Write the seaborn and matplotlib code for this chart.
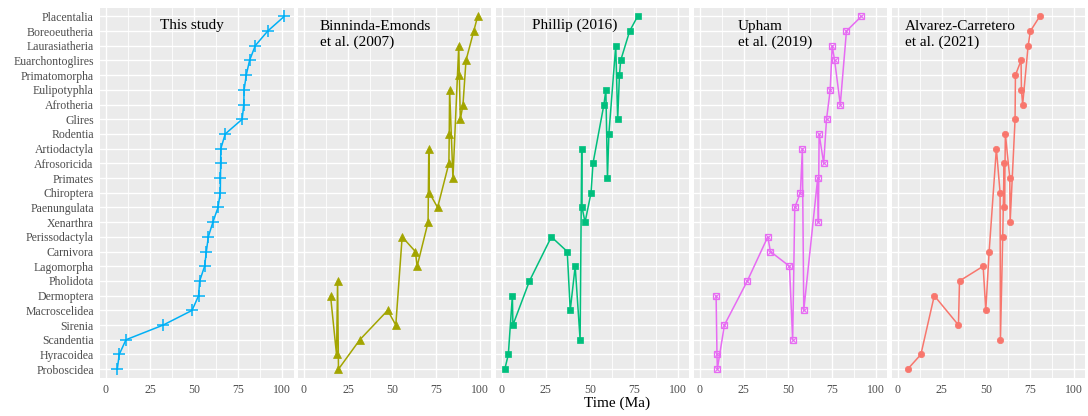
import numpy as np
import pandas as pd
import seaborn as sns
import matplotlib.pyplot as plt

# clades, top to bottom as shown on the y axis
clades = ["Placentalia", "Boreoeutheria", "Laurasiatheria", "Euarchontoglires",
          "Primatomorpha", "Eulipotyphla", "Afrotheria", "Glires", "Rodentia",
          "Artiodactyla", "Afrosoricida", "Primates", "Chiroptera", "Paenungulata",
          "Xenarthra", "Perissodactyla", "Carnivora", "Lagomorpha", "Pholidota",
          "Dermoptera", "Macroscelidea", "Sirenia", "Scandentia", "Hyracoidea",
          "Proboscidea"]

# crown ages (Ma) per study, same order as clades
this_study = [101.1, 91.7, 84.6, 81.4, 79.5, 78.3, 78.1, 77.2, 67.6, 65.1, 65.0, 64.9,
              64.8, 63.5, 60.6, 58.0, 56.9, 55.9, 53.1, 52.5, 48.8, 32.4, 11.3, 7.5, 6.4]
binninda = [98.5, 96.3, 87.8, 91.9, 88.1, 82.6, 90.2, 88.7, 82.4, 70.8, 82.2, 84.5,
            71.1, 75.8, 70.4, 55.7, 63.2, 64.2, 19.1, 15.1, 47.5, 52.1, 31.7, 18.5, 19.6]
phillip = [77.0, 72.5, 64.6, 67.4, 66.7, 59.0, 57.9, 65.7, 60.7, 45.3, 51.7, 59.9,
           50.6, 45.5, 47.2, 28.1, 37.1, 41.6, 15.7, 6.0, 38.8, 6.3, 44.4, 3.7, 1.7]
upham = [91.7, 83.2, 75.1, 76.5, np.nan, 74.0, 79.7, 71.9, 67.7, 58.2, 70.3, 66.9,
         57.1, 53.9, 67.3, 38.6, 40.1, 50.9, 27.0, 9.3, 59.0, 14.0, 52.7, 9.8, 10.0]
alvarez = [80.6, 75.3, 74.0, 70.0, 66.8, 70.2, 70.9, 66.6, 61.1, 56.0, 60.4, 63.6,
           58.1, 60.6, 63.8, 59.6, 51.9, 48.5, 35.1, 20.8, 50.0, 34.5, 58.3, 13.2, 5.7]

studies = ["This study", "Binninda-Emonds\net al. (2007)", "Phillip (2016)",
           "Upham\net al. (2019)", "Alvarez-Carretero\net al. (2021)"]
ages = [this_study, binninda, phillip, upham, alvarez]
colors = ["#00B0F6", "#A3A500", "#00BF7D", "#E76BF3", "#F8766D"]
label_x = [30.5, 9.1, 17.2, 21.8, 4.1]

rows = []
for study, vals in zip(studies, ages):
    for i, (c, v) in enumerate(zip(clades, vals)):
        rows.append({"study": study, "clade": c, "pos": len(clades) - 1 - i, "time": v})
df = pd.DataFrame(rows).dropna()

sns.set_theme(style="darkgrid", rc={"axes.facecolor": "#EBEBEB", "grid.color": "white"})
plt.rcParams["font.family"] = ["Liberation Serif", "DejaVu Serif"]

W, H = 1088, 416
fig = plt.figure(figsize=(W / 100, H / 100), dpi=100)
pw, gap, left0, top, bottom = 193.5, 4.4, 100, 7.5, 378

n = len(clades)
for k, study in enumerate(studies):
    x0 = left0 + k * (pw + gap)
    ax = fig.add_axes([x0 / W, (H - bottom) / H, pw / W, (bottom - top) / H])
    sub = df[df.study == study]
    col = colors[k]
    kw = dict(data=sub, x="time", y="pos", sort=True, estimator=None, ax=ax,
              color=col, linewidth=1.1, markeredgecolor=col)
    if k == 0:
        sns.lineplot(**kw, marker="+", markersize=8, markeredgewidth=1.1)
    elif k == 1:
        sns.lineplot(**kw, marker="^", markersize=5.5, markeredgewidth=0.5)
    elif k == 2:
        sns.lineplot(**kw, marker="s", markersize=4.6, markeredgewidth=0.5)
    elif k == 3:
        sns.lineplot(**kw, marker="s", markersize=5, markerfacecolor="none",
                     markeredgewidth=0.9)
        sns.scatterplot(data=sub, x="time", y="pos", ax=ax, color=col, marker="x",
                        s=10, linewidth=0.8, zorder=5)
    else:
        sns.lineplot(**kw, marker="o", markersize=4.6, markeredgewidth=0.5)

    ax.set_xlim(-3.4, 106.3)
    ax.set_ylim(-0.6, n - 0.4)
    ax.set_xticks([0, 25, 50, 75, 100])
    ax.set_xticks([12.5, 37.5, 62.5, 87.5], minor=True)
    ax.set_yticks(range(n))
    ax.grid(which="major", color="white", linewidth=1.0)
    ax.grid(which="minor", axis="x", color="white", linewidth=0.6)
    ax.tick_params(which="major", length=2.5, width=0.8, color="#333333",
                   labelcolor="#4D4D4D", labelsize=8.5, pad=2)
    ax.tick_params(which="minor", length=0)
    if k == 0:
        ax.set_yticklabels(clades[::-1])
    else:
        ax.set_yticklabels([])
        ax.tick_params(axis="y", length=0)
    ax.set_xlabel("")
    ax.set_ylabel("")
    for s in ax.spines.values():
        s.set_visible(False)
    ty = n - 1 - (0.62 if "\n" not in study else 1.25)
    ax.text(label_x[k], ty, study, fontsize=11, color="black", va="center",
            ha="left", linespacing=1.2)

fig.text(617 / W, 1 - 403 / H, "Time (Ma)", ha="center", va="center", fontsize=11,
         color="black")

fig.savefig("out.png", dpi=100)
